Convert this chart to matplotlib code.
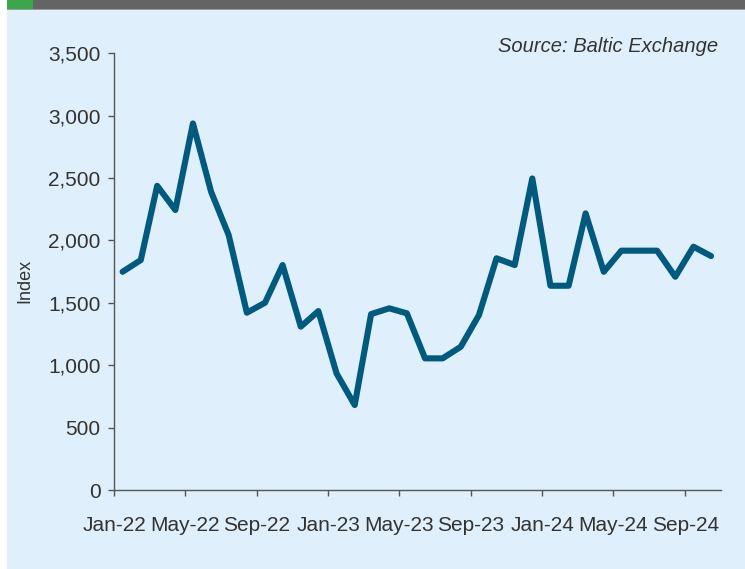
import numpy as np
import pandas as pd
import matplotlib
matplotlib.use("Agg")
import matplotlib.pyplot as plt
import matplotlib.dates as mdates
from matplotlib.ticker import FuncFormatter
from matplotlib.patches import Rectangle

# === Data (monthly index) ===
start_month = "2022-01-01"
n_months = 34
index_values = [1749, 1843, 2438, 2244, 2938, 2390, 2043, 1421, 1501, 1803,
                1309, 1434, 935, 681, 1410, 1456, 1416, 1055, 1055, 1148,
                1402, 1857, 1803, 2497, 1637, 1637, 2217, 1749, 1918, 1918,
                1918, 1709, 1950, 1875]
tick_dates = pd.date_range("2022-01-01", "2024-09-01", freq="4MS")
y_ticks = [0, 500, 1000, 1500, 2000, 2500, 3000, 3500]
source_text = "Source: Baltic Exchange"
y_label = "Index"

# === Styles ===
BG = "#dff0fc"
LINE = "#005a7e"
TEXT = "#333333"
AXIS = "#555555"

# mid-month observations
dates = pd.date_range(start_month, periods=n_months, freq="MS") + pd.Timedelta(days=14)

plt.rcParams["font.family"] = ["Liberation Sans", "DejaVu Sans"]

fig = plt.figure(figsize=(7.45, 5.69), dpi=100)
fig.patch.set_facecolor("white")

# panel background + header bar
fig.patches.append(Rectangle((7 / 745, 0), 1, 1, transform=fig.transFigure,
                             facecolor=BG, edgecolor="none", zorder=0))
fig.patches.append(Rectangle((33 / 745, 1 - 9 / 569), 1, 9 / 569, transform=fig.transFigure,
                             facecolor="#646464", edgecolor="none", zorder=1))
fig.patches.append(Rectangle((7 / 745, 1 - 9 / 569), 26 / 745, 9 / 569, transform=fig.transFigure,
                             facecolor="#3aa84a", edgecolor="none", zorder=1))
fig.patches.append(Rectangle((7 / 745, 1 - 10 / 569), 1, 1 / 569, transform=fig.transFigure,
                             facecolor="#9a9a9a", edgecolor="none", zorder=1))

ax = fig.add_axes([114.4 / 745, 1 - 490 / 569, (721 - 114.4) / 745, (490 - 53.3) / 569])
ax.set_facecolor("none")
ax.set_zorder(5)

ax.plot(dates, index_values, color=LINE, lw=4.4, solid_joinstyle="round",
        solid_capstyle="round", clip_on=False)

ax.set_ylim(0, 3500)
ax.set_yticks(y_ticks)
ax.yaxis.set_major_formatter(FuncFormatter(lambda v, p: f"{int(v):,}"))
ax.set_xlim(pd.Timestamp("2022-01-01"), pd.Timestamp("2024-11-01"))
ax.set_xticks(tick_dates)
ax.xaxis.set_major_formatter(mdates.DateFormatter("%b-%y"))

for s in ["top", "right"]:
    ax.spines[s].set_visible(False)
for s in ["left", "bottom"]:
    ax.spines[s].set_color(AXIS)
    ax.spines[s].set_linewidth(1.0)

ax.tick_params(axis="both", colors=AXIS, labelcolor=TEXT, length=4, width=1.0,
               labelsize=15)
ax.tick_params(axis="y", pad=6)
ax.tick_params(axis="x", pad=14.5)

ax.set_ylabel(y_label, fontsize=13, color=TEXT)
ax.yaxis.set_label_coords(-0.134, 0.479)

fig.text(718 / 745, 1 - 51.7 / 569, source_text, ha="right", va="baseline",
         fontsize=14.5, style="italic", color=TEXT)

fig.savefig("out.png", dpi=100, facecolor=fig.get_facecolor())
